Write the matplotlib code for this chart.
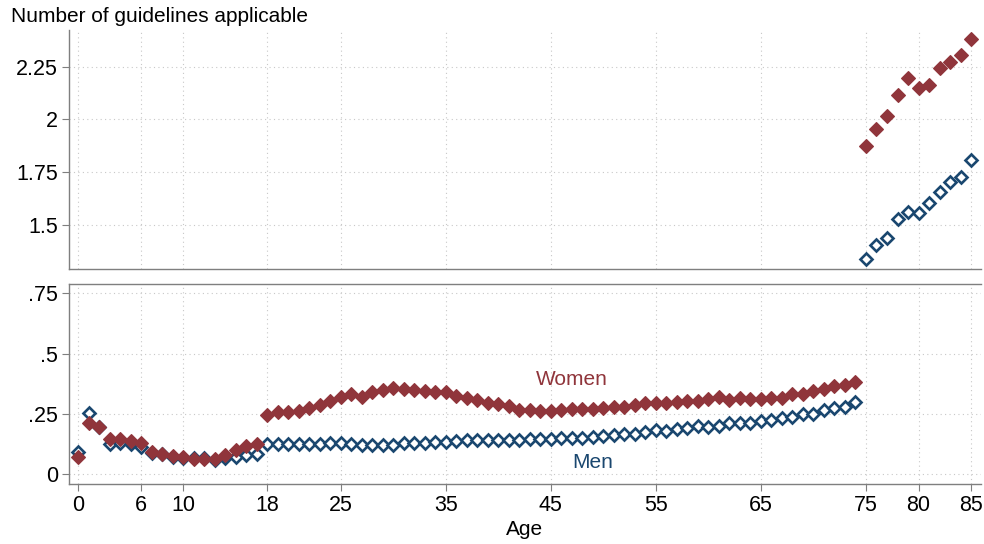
import numpy as np
import matplotlib
matplotlib.use('Agg')
import matplotlib.pyplot as plt

plt.rcParams['font.family'] = ['Liberation Sans', 'DejaVu Sans']

# datos
age = np.arange(0, 86)

women = [0.073, 0.214, 0.198, 0.145, 0.145, 0.140, 0.128, 0.094, 0.084, 0.077,
         0.073, 0.064, 0.062, 0.062, 0.080, 0.099, 0.117, 0.126, 0.246, 0.257,
         0.257, 0.264, 0.273, 0.287, 0.305, 0.322, 0.331, 0.322, 0.340, 0.349,
         0.356, 0.352, 0.349, 0.345, 0.340, 0.340, 0.325, 0.315, 0.308, 0.297,
         0.291, 0.283, 0.267, 0.267, 0.264, 0.264, 0.267, 0.269, 0.269, 0.269,
         0.276, 0.280, 0.280, 0.287, 0.294, 0.297, 0.294, 0.301, 0.304, 0.305,
         0.311, 0.319, 0.308, 0.315, 0.311, 0.311, 0.315, 0.315, 0.331, 0.333,
         0.345, 0.354, 0.366, 0.370, 0.384,
         1.874, 1.953, 2.018, 2.116, 2.195, 2.147, 2.163, 2.242, 2.271, 2.305, 2.379]

men = [0.091, 0.253, 0.198, 0.126, 0.128, 0.126, 0.115, 0.087, 0.084, 0.073,
       0.069, 0.066, 0.066, 0.059, 0.066, 0.073, 0.080, 0.084, 0.126, 0.126,
       0.126, 0.126, 0.126, 0.126, 0.128, 0.128, 0.124, 0.120, 0.122, 0.122,
       0.122, 0.128, 0.128, 0.131, 0.135, 0.135, 0.138, 0.142, 0.142, 0.142,
       0.142, 0.142, 0.142, 0.145, 0.145, 0.145, 0.149, 0.149, 0.152, 0.156,
       0.160, 0.163, 0.167, 0.167, 0.175, 0.182, 0.181, 0.186, 0.191, 0.200,
       0.198, 0.200, 0.214, 0.211, 0.214, 0.222, 0.225, 0.232, 0.239, 0.249,
       0.249, 0.267, 0.273, 0.280, 0.298,
       1.337, 1.405, 1.437, 1.527, 1.563, 1.558, 1.606, 1.658, 1.702, 1.726, 1.808]

xticks = [0, 6, 10, 18, 25, 35, 45, 55, 65, 75, 80, 85]
yticks_top = [1.5, 1.75, 2, 2.25]
yticks_bot = [0, 0.25, 0.5, 0.75]
ylabels_top = ['1.5', '1.75', '2', '2.25']
ylabels_bot = ['0', '.25', '.5', '.75']

women = np.array(women)
men = np.array(men)
old = age >= 75

# colores (Stata s2color)
clr_w = '#90353B'
clr_m = '#1A476F'
clr_ax = '#7f7f7f'

fig = plt.figure(figsize=(9.84, 5.44), dpi=100)
fig.patch.set_facecolor('white')
ax1 = fig.add_axes([69/984, 1-269/544, 912/984, 239/544])
ax2 = fig.add_axes([69/984, 1-483.5/544, 912/984, 199.5/544])

for ax, mask in [(ax1, old), (ax2, ~old)]:
    ax.plot(age[mask], women[mask], 'D', color=clr_w, ms=6.8, mec=clr_w, mew=0.8, zorder=3)
    ax.plot(age[mask], men[mask], 'D', color=clr_m, ms=6.0, mfc='white', mec=clr_m, mew=1.9, zorder=2)
    ax.set_xlim(-0.886, 85.95)
    ax.set_xticks(xticks)
    ax.grid(True, linestyle=(0, (1, 3)), color='#c8c8c8', linewidth=0.8)
    ax.tick_params(direction='out', length=5, width=0.8, color=clr_ax, labelsize=15.5, pad=3)
    ax.spines['right'].set_visible(False)
    for s in ax.spines.values():
        s.set_color(clr_ax)
        s.set_linewidth(1.0)

ax1.spines['top'].set_visible(False)
ax1.set_ylim(1.291, 2.424)
ax1.set_yticks(yticks_top, ylabels_top)
ax1.tick_params(axis='x', length=0, labelbottom=False)

ax2.set_ylim(-0.038, 0.789)
ax2.set_yticks(yticks_bot, ylabels_bot)
ax2.set_xticks(xticks, [str(v) for v in xticks])
ax2.set_xlabel('Age', fontsize=15, labelpad=3)

ax2.text(47.0, 0.395, 'Women', color=clr_w, fontsize=15, ha='center', va='center')
ax2.text(49.0, 0.047, 'Men', color=clr_m, fontsize=15, ha='center', va='center')

fig.text(11/984, 1-16/544, 'Number of guidelines applicable', fontsize=15,
         ha='left', va='center')

plt.savefig('out.png', dpi=100)
